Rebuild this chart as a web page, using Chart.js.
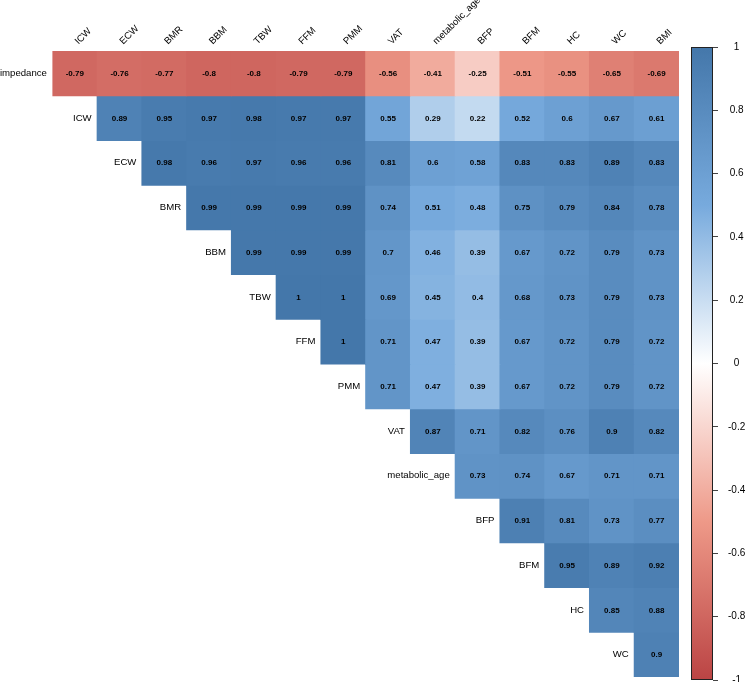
<!DOCTYPE html>
<html><head><meta charset="utf-8">
<script src="https://cdn.jsdelivr.net/npm/chart.js@4/dist/chart.umd.min.js"></script>
<style>
html,body{margin:0;padding:0;background:#fff;}
#wrap{position:relative;width:750px;height:682px;overflow:hidden;}
#main{position:absolute;left:0;top:0;}
#cbar{position:absolute;left:680px;top:0;}
</style></head><body>
<div id="wrap"><canvas id="main" width="750" height="682"></canvas><canvas id="cbar" width="70" height="682"></canvas></div>
<script>
const columns = ['ICW','ECW','BMR','BBM','TBW','FFM','PMM','VAT','metabolic_age','BFP','BFM','HC','WC','BMI'];
const rows = ['impedance','ICW','ECW','BMR','BBM','TBW','FFM','PMM','VAT','metabolic_age','BFP','BFM','HC','WC'];

// each row's values, starting at the column with the same index as the row
const r_impedance = [-0.79,-0.76,-0.77,-0.8,-0.8,-0.79,-0.79,-0.56,-0.41,-0.25,-0.51,-0.55,-0.65,-0.69];
const r_ICW = [0.89,0.95,0.97,0.98,0.97,0.97,0.55,0.29,0.22,0.52,0.6,0.67,0.61];
const r_ECW = [0.98,0.96,0.97,0.96,0.96,0.81,0.6,0.58,0.83,0.83,0.89,0.83];
const r_BMR = [0.99,0.99,0.99,0.99,0.74,0.51,0.48,0.75,0.79,0.84,0.78];
const r_BBM = [0.99,0.99,0.99,0.7,0.46,0.39,0.67,0.72,0.79,0.73];
const r_TBW = [1,1,0.69,0.45,0.4,0.68,0.73,0.79,0.73];
const r_FFM = [1,0.71,0.47,0.39,0.67,0.72,0.79,0.72];
const r_PMM = [0.71,0.47,0.39,0.67,0.72,0.79,0.72];
const r_VAT = [0.87,0.71,0.82,0.76,0.9,0.82];
const r_metabolic_age = [0.73,0.74,0.67,0.71,0.71];
const r_BFP = [0.91,0.81,0.73,0.77];
const r_BFM = [0.95,0.89,0.92];
const r_HC = [0.85,0.88];
const r_WC = [0.9];
const rowValues = [r_impedance,r_ICW,r_ECW,r_BMR,r_BBM,r_TBW,r_FFM,r_PMM,r_VAT,r_metabolic_age,r_BFP,r_BFM,r_HC,r_WC];

const colorbarTicks = [-1,-0.8,-0.6,-0.4,-0.2,0,0.2,0.4,0.6,0.8,1];
const paletteStops = [[-1,'#BB4444'],[-0.5,'#EE9988'],[0,'#FFFFFF'],[0.5,'#77AADD'],[1,'#4477AA']];

function hexToRgb(h){return [parseInt(h.substr(1,2),16),parseInt(h.substr(3,2),16),parseInt(h.substr(5,2),16)];}
function colorFor(v){
  for(let k=0;k<paletteStops.length-1;k++){
    const [a,ca]=paletteStops[k],[b,cb]=paletteStops[k+1];
    if(v>=a && v<=b){
      const t=(v-a)/(b-a), A=hexToRgb(ca), B=hexToRgb(cb);
      const c=A.map((x,i)=>Math.round(x+(B[i]-x)*t));
      return `rgb(${c[0]},${c[1]},${c[2]})`;
    }
  }
  return '#fff';
}

Chart.defaults.font.family = '"Liberation Sans", Arial, sans-serif';
Chart.defaults.color = '#000';

const datasets = rows.map((name,i)=>({
  label:name,
  data: columns.map((c,j)=> j>=i ? [i,i+1] : null),
  backgroundColor: columns.map((c,j)=> j>=i ? colorFor(rowValues[i][j-i]) : 'rgba(0,0,0,0)'),
  borderWidth:0,
  grouped:false,
  categoryPercentage:1,
  barPercentage:1,
  inflateAmount:0.5
}));

const textPlugin = {
  id:'cellText',
  afterDatasetsDraw(chart){
    const ctx = chart.ctx;
    ctx.save();
    rows.forEach((name,i)=>{
      const meta = chart.getDatasetMeta(i);
      ctx.font = 'bold 8px "Liberation Sans", Arial, sans-serif';
      ctx.textAlign='center'; ctx.textBaseline='middle'; ctx.fillStyle='#000';
      meta.data.forEach((el,j)=>{
        if(j<i) return;
        const p = el.getCenterPoint();
        ctx.fillText(String(rowValues[i][j-i]), p.x, p.y+0.5);
      });
      const first = meta.data[i];
      const p0 = first.getCenterPoint();
      ctx.font = '9.6px "Liberation Sans", Arial, sans-serif';
      ctx.textAlign='right';
      ctx.fillText(name, p0.x - first.width/2 - 5.5, p0.y);
    });
    ctx.restore();
  }
};

new Chart(document.getElementById('main'), {
  type:'bar',
  data:{labels:columns, datasets},
  options:{
    responsive:false, animation:false, devicePixelRatio:1,
    layout:{padding:{left:52.4, right:71, top:0, bottom:5}},
    plugins:{legend:{display:false}, tooltip:{enabled:false}},
    scales:{
      x:{position:'top', grid:{display:false, drawTicks:false}, border:{display:false},
         ticks:{autoSkip:false, minRotation:45, maxRotation:45, padding:4, labelOffset:10, color:'#000', font:{size:9.6}},
         afterFit(s){ s.height = 51; }},
      y:{display:false, min:0, max:14, reverse:true}
    }
  },
  plugins:[textPlugin]
});

new Chart(document.getElementById('cbar'), {
  type:'bar',
  data:{labels:[''], datasets:[{
    data:[[-1,1]],
    backgroundColor(context){
      const ca = context.chart.chartArea;
      if(!ca) return '#fff';
      const g = context.chart.ctx.createLinearGradient(0, ca.bottom, 0, ca.top);
      paletteStops.forEach(([v,c])=>g.addColorStop((v+1)/2, c));
      return g;
    },
    borderColor:'#222', borderWidth:1, borderSkipped:false,
    barPercentage:1, categoryPercentage:1, inflateAmount:0
  }]},
  options:{
    responsive:false, animation:false, devicePixelRatio:1,
    layout:{padding:{left:11, top:47, bottom:2, right:0}},
    plugins:{legend:{display:false}, tooltip:{enabled:false}},
    scales:{
      x:{display:false},
      y:{position:'right', min:-1, max:1,
         afterBuildTicks(s){ s.ticks = colorbarTicks.map(v=>({value:v})); },
         ticks:{crossAlign:'center', padding:10, color:'#000', font:{size:10}, callback:v=>String(v)},
         grid:{drawOnChartArea:false, drawTicks:true, tickLength:5, color:'#444'},
         border:{display:false},
         afterFit(s){ s.width = 37; s.paddingTop = 0; s.paddingBottom = 0; }}
    }
  }
});
</script>
</body></html>
